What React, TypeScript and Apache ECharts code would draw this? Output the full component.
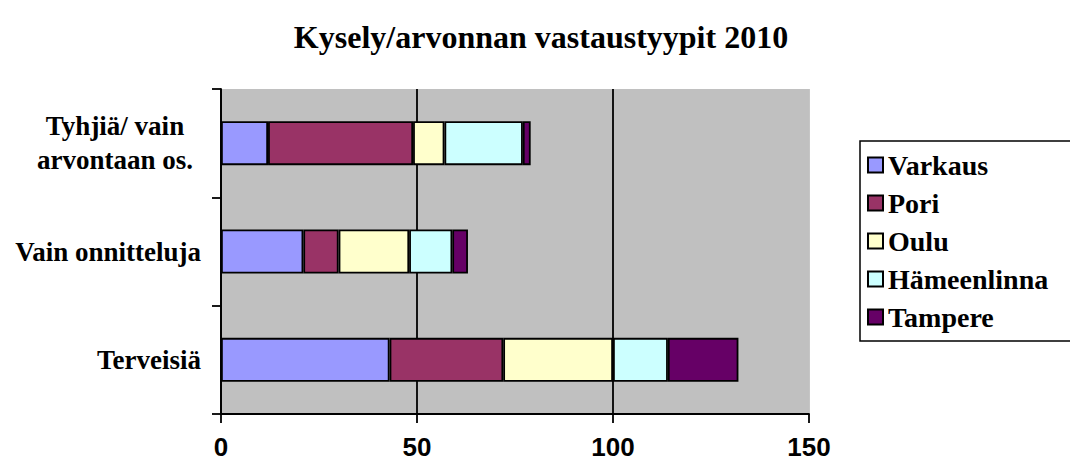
import React, { useEffect, useRef } from "react";
import * as echarts from "echarts";

const categories = ["Terveisiä", "Vain onnitteluja", "Tyhjiä/ vain\narvontaan os."];
const seriesNames = ["Varkaus", "Pori", "Oulu", "Hämeenlinna", "Tampere"];
const varkaus = [43, 21, 12];
const pori = [29, 9, 37];
const oulu = [28, 18, 8];
const hameenlinna = [14, 11, 20];
const tampere = [18, 4, 2];
const xTicks = [0, 50, 100, 150];
const colors = ["#9999FF", "#993366", "#FFFFCC", "#CCFFFF", "#660066"];

const SERIF = "'Liberation Serif', 'Times New Roman', serif";
const SANS = "'Liberation Sans', Arial, sans-serif";

export default function App() {
  const ref = useRef<HTMLDivElement>(null);
  useEffect(() => {
    if (!ref.current) return;
    const chart = echarts.init(ref.current, undefined, { renderer: "svg" });
    const values = [varkaus, pori, oulu, hameenlinna, tampere];
    chart.setOption({
      animation: false,
      backgroundColor: "#ffffff",
      title: {
        text: "Kysely/arvonnan vastaustyypit 2010",
        left: 536,
        textAlign: "center",
        top: 16,
        textStyle: { fontFamily: SERIF, fontWeight: "bold", fontSize: 32, color: "#000" },
      },
      legend: {
        orient: "vertical",
        left: 860,
        top: 141,
        padding: [10, 40, 10, 7],
        itemGap: 10,
        itemWidth: 15,
        itemHeight: 15,
        icon: "rect",
        borderColor: "#000",
        borderWidth: 1.5,
        data: seriesNames,
        textStyle: { fontFamily: SERIF, fontWeight: "bold", fontSize: 28, color: "#000" },
      },
      grid: {
        left: 221,
        right: 261,
        top: 89,
        bottom: 56,
        show: true,
        backgroundColor: "#c0c0c0",
        borderWidth: 0,
      },
      xAxis: {
        type: "value",
        min: xTicks[0],
        max: xTicks[xTicks.length - 1],
        interval: 50,
        axisLine: { show: true, lineStyle: { color: "#000", width: 1.8 } },
        axisTick: { show: true, length: 9, lineStyle: { color: "#000", width: 1.8 } },
        axisLabel: { fontFamily: SANS, fontWeight: "bold", fontSize: 26, color: "#000", margin: 20 },
        splitLine: { show: true, lineStyle: { color: ["#000", "#000", "#000", "#c0c0c0"], width: 1.8 } },
      },
      yAxis: {
        type: "category",
        data: categories,
        axisLine: { show: true, lineStyle: { color: "#000", width: 1.8 } },
        axisTick: { show: true, length: 9, lineStyle: { color: "#000", width: 1.8 } },
        axisLabel: {
          fontFamily: SERIF,
          fontWeight: "bold",
          fontSize: 27,
          color: "#000",
          margin: 20,
          lineHeight: 34,
          formatter: (v: string) =>
            v.includes("\n") ? v.split("\n").map((l) => `{c|${l}}`).join("\n") : v,
          rich: {
            c: { width: 172, align: "center", fontFamily: SERIF, fontWeight: "bold", fontSize: 27, color: "#000", lineHeight: 34 },
          },
        },
      },
      series: seriesNames.map((name, i) => ({
        name,
        type: "bar",
        stack: "total",
        barWidth: 44,
        data: values[i],
        itemStyle: { color: colors[i], borderColor: "#000", borderWidth: 1.8 },
      })),
    });
    return () => chart.dispose();
  }, []);
  return <div ref={ref} style={{ position: "fixed", left: 0, top: 0, width: 1070, height: 470 }} />;
}
